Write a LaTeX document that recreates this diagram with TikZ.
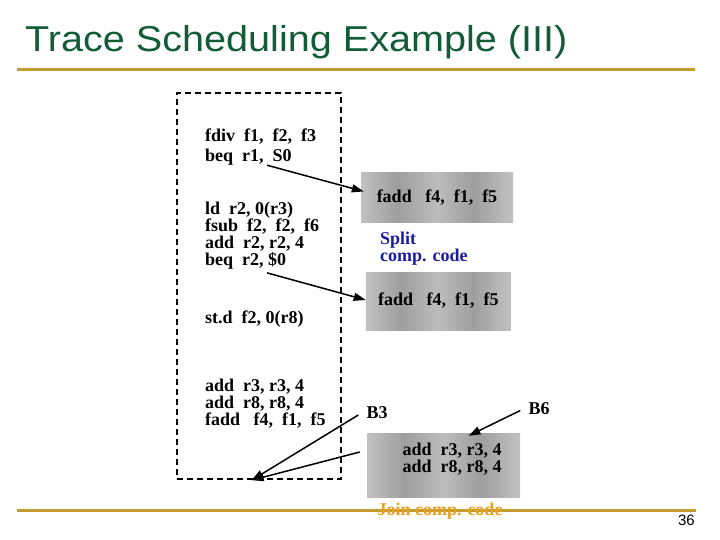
\documentclass[tikz,border=0pt]{standalone}
\usepackage{fontspec}
\setmainfont{Liberation Serif}
\setsansfont{Liberation Sans}
\usepackage{tikz}
\usetikzlibrary{arrows.meta,positioning,calc}
\definecolor{titlegreen}{RGB}{18,92,56}
\definecolor{rulegold}{RGB}{196,156,48}
\definecolor{splitblue}{RGB}{28,28,160}
\definecolor{joinorange}{RGB}{232,160,32}
\pgfdeclarehorizontalshading{stipple}{100bp}{color(0bp)=(black!20); color(12bp)=(black!36); color(25bp)=(black!24); color(37bp)=(black!38); color(50bp)=(black!26); color(62bp)=(black!38); color(75bp)=(black!24); color(87bp)=(black!36); color(100bp)=(black!20)}
\tikzset{
  codeblock/.style={font=\fontsize{18}{17}\selectfont\bfseries, align=left, inner sep=0pt, anchor=west},
  grayblock/.style={shading=stipple, inner sep=0pt, font=\fontsize{18}{17}\selectfont\bfseries},
  tracebox/.style={draw, line width=2pt, dash pattern=on 6pt off 4pt},
  blocklabel/.style={font=\fontsize{18}{17}\selectfont\bfseries, inner sep=0pt},
  arrow/.style={-{Triangle[length=12pt,width=8pt]}, line width=1.5pt},
  goldrule/.style={rulegold, line width=3pt}
}
\begin{document}
\begin{tikzpicture}[x=1pt,y=-1pt]
  \useasboundingbox (0,0) rectangle (720,540);

  \node[font=\sffamily\fontsize{36}{36}\selectfont, text=titlegreen, anchor=base west, xscale=1.1, inner sep=0pt] (title) at (25,52) {Trace Scheduling Example (III)};
  \draw[goldrule] (17,70) -- (695,70);

  \node[tracebox, minimum width=164, minimum height=386] (trace) at (258.7,286.2) {};

  \node[codeblock, font=\fontsize{18}{19.5}\selectfont\bfseries] (blockA) at (205,147) {fdiv~~f1,~~f2,~~f3\\beq~~r1,~~S0};
  \node[codeblock] (blockB) at (205,236) {ld~~r2, 0(r3)\\fsub~~f2,~~f2,~~f6\\add~~r2, r2, 4\\beq~~r2, \$0};
  \node[codeblock] (blockC) at (205,319) {st.d~~f2, 0(r8)};
  \node[codeblock] (blockD) at (205,403.5) {add~~r3, r3, 4\\add~~r8, r8, 4\\fadd~~~f4,~~f1,~~f5};

  \node[grayblock, minimum width=152, minimum height=50] (split1) at (437,197.5) {fadd~~~f4,~~f1,~~f5};
  \node[blocklabel, align=left, text=splitblue, anchor=west] (split) at (380,249) {Split\\comp. code};
  \node[grayblock, minimum width=145, minimum height=58] (split2) at (438.4,301) {fadd~~~f4,~~f1,~~f5};

  \node[grayblock, minimum width=153, minimum height=64] (join) at (443.5,465) {};
  \node[codeblock, anchor=center] (joincode) at (452,459.5) {add~~r3, r3, 4\\add~~r8, r8, 4};

  \node[blocklabel] (b3) at (377,413) {B3};
  \node[blocklabel] (b6) at (539,408.5) {B6};

  \draw[goldrule] (17,510) -- (696,510);
  \node[blocklabel, text=joinorange] (joinlabel) at (440,511) {Join comp. code};
  \node[font=\sffamily\fontsize{15}{15}\selectfont, anchor=base east, inner sep=0pt] (page) at (695,525) {36};

  \draw[arrow] ($(blockA.south west)+(62,0)$) -- ($(split1.west)+(3,-6)$);
  \draw[arrow] ($(blockB.south west)+(62,3)$) -- ($(split2.west)+(0,-1)$);
  \draw[arrow] ($(b3.west)+(-8,2)$) -- ($(trace.south)+(-7,0)$);
  \draw[arrow] ($(join.west)+(-7,-13)$) -- ($(trace.south)+(-7,0)$);
  \draw[arrow] ($(b6.west)+(-8,2)$) -- ($(join.north)+(25,3)$);
\end{tikzpicture}
\end{document}
